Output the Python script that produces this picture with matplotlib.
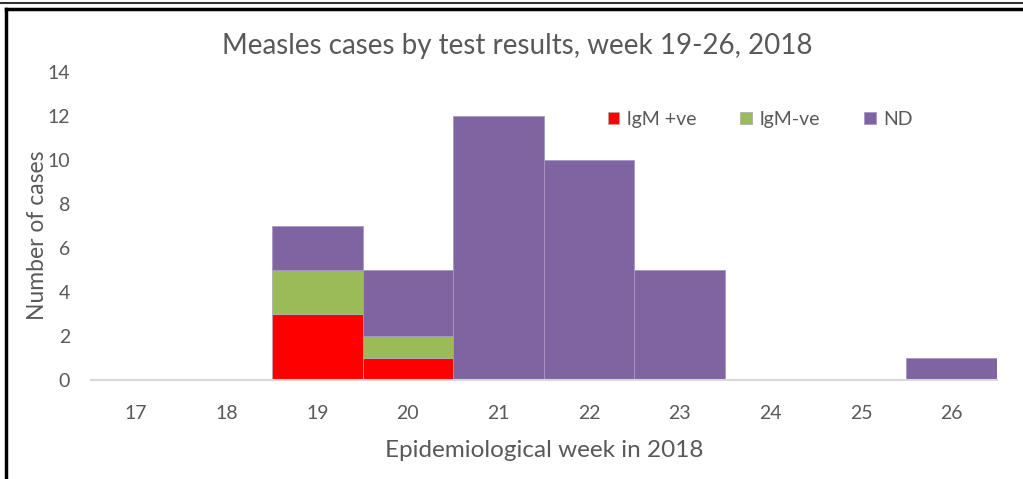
import matplotlib.pyplot as plt
from matplotlib.lines import Line2D

# data
weeks = ['17', '18', '19', '20', '21', '22', '23', '24', '25', '26']
igm_pos = [0, 0, 3, 1, 0, 0, 0, 0, 0, 0]
igm_neg = [0, 0, 2, 1, 0, 0, 0, 0, 0, 0]
nd = [0, 0, 2, 3, 12, 10, 5, 0, 0, 1]

plt.rcParams['font.family'] = ['Lato', 'DejaVu Sans']
grey = '#595959'

fig = plt.figure(figsize=(10.23, 4.79), dpi=100)
ax = fig.add_axes([0.0887, 0.2067, 0.8858, 0.643])

x = range(len(weeks))
bottom2 = [a + b for a, b in zip(igm_pos, igm_neg)]
ax.bar(x, igm_pos, width=1.0, color='#FF0000', edgecolor='#C8A0A0', linewidth=0.6, label='lgM +ve')
ax.bar(x, igm_neg, width=1.0, bottom=igm_pos, color='#9BBB59', edgecolor='#B0B0B0', linewidth=0.6, label='lgM-ve')
ax.bar(x, nd, width=1.0, bottom=bottom2, color='#8064A2', edgecolor='#A898C4', linewidth=0.6, label='ND')

ax.set_xlim(-0.5, len(weeks) - 0.5)
ax.set_ylim(0, 14)
ax.set_yticks(range(0, 15, 2))
ax.set_xticks(list(x))
ax.set_xticklabels(weeks)
ax.tick_params(length=0, colors=grey, labelsize=14)
ax.tick_params(axis='x', pad=18)
ax.tick_params(axis='y', pad=15)
for s in ['top', 'right', 'left']:
    ax.spines[s].set_visible(False)
ax.spines['bottom'].set_color('#D9D9D9')
ax.spines['bottom'].set_linewidth(1.5)

ax.set_xlabel('Epidemiological week in 2018', fontsize=17.5, color=grey, labelpad=13)
ax.set_ylabel('Number of cases', fontsize=16.5, color=grey)
ax.yaxis.set_label_coords(-0.047, 0.47)
fig.text(0.506, 0.905, 'Measles cases by test results, week 19-26, 2018', ha='center', va='center',
         fontsize=20, color=grey)

ax.legend(loc='upper left', bbox_to_anchor=(0.551, 0.93), ncol=3, frameon=False, fontsize=14,
          handlelength=0.6, handleheight=0.6, columnspacing=2.25, handletextpad=0.4, labelcolor=grey)

# outer frame lines
fig.add_artist(Line2D([0, 1], [0.994, 0.994], transform=fig.transFigure, color='#333333', linewidth=1.5))
fig.add_artist(Line2D([0.006, 1], [0.982, 0.982], transform=fig.transFigure, color='black', linewidth=2.5))
fig.add_artist(Line2D([0.006, 0.006], [0, 0.982], transform=fig.transFigure, color='black', linewidth=2.5))

fig.savefig('out.png', dpi=100)
